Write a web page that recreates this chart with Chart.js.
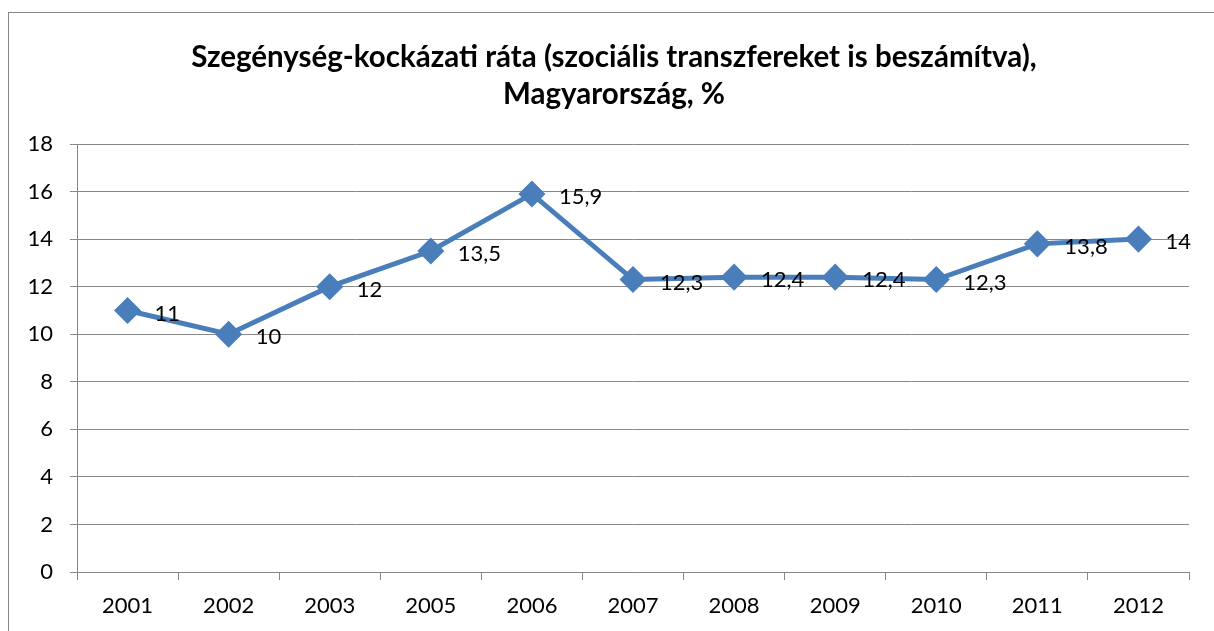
<!DOCTYPE html>
<html>
<head>
<meta charset="utf-8">
<script src="https://cdn.jsdelivr.net/npm/chart.js@4/dist/chart.umd.min.js"></script>
<style>
  html, body { margin: 0; padding: 0; background: #fff; }
  #wrap { position: relative; width: 1214px; height: 631px; }
</style>
</head>
<body>
<div id="wrap"><canvas id="lineChart" width="1214" height="631"></canvas></div>
<script>
// Adatok
const years = ['2001', '2002', '2003', '2005', '2006', '2007', '2008', '2009', '2010', '2011', '2012'];
const rates = [11, 10, 12, 13.5, 15.9, 12.3, 12.4, 12.4, 12.3, 13.8, 14];
const titleLines = ['Szegénység-kockázati ráta (szociális transzfereket is beszámítva),', 'Magyarország, %'];

const FONT = 'Lato, "Liberation Sans", sans-serif';
const GRID = '#878787';

// outer frame of the chart object, and title nudged a bit right
const framePlugin = {
    id: 'frame',
    afterLayout(chart) {
        if (chart.titleBlock) chart.titleBlock.left = 39;
    },
    beforeDraw(chart) {
        const ctx = chart.ctx;
        ctx.save();
        ctx.fillStyle = '#fff';
        ctx.fillRect(0, 0, chart.width, chart.height);
        ctx.strokeStyle = GRID;
        ctx.lineWidth = 1;
        ctx.strokeRect(8.5, 12.5, chart.width + 20, chart.height + 20);
        ctx.restore();
    }
};

// value labels to the right of each point
const labelPlugin = {
    id: 'pointLabels',
    afterDatasetsDraw(chart) {
        const ctx = chart.ctx;
        const meta = chart.getDatasetMeta(0);
        ctx.save();
        ctx.font = '22px ' + FONT;
        ctx.fillStyle = '#000';
        ctx.textAlign = 'left';
        ctx.textBaseline = 'middle';
        meta.data.forEach((pt, i) => {
            const txt = String(rates[i]).replace('.', ',');
            ctx.fillText(txt, pt.x + 27, pt.y + 3);
        });
        ctx.restore();
    }
};

new Chart(document.getElementById('lineChart'), {
    type: 'line',
    data: {
        labels: years,
        datasets: [{
            data: rates,
            borderColor: '#4A7EBB',
            backgroundColor: '#4A7EBB',
            borderWidth: 5,
            pointStyle: 'rectRot',
            pointRadius: 10,
            pointHoverRadius: 10,
            tension: 0
        }]
    },
    options: {
        responsive: false,
        animation: false,
        layout: { padding: { left: 0, right: 25, top: 0, bottom: 0 } },
        plugins: {
            legend: { display: false },
            tooltip: { enabled: false },
            title: {
                display: true,
                text: titleLines,
                color: '#000',
                font: { family: FONT, size: 29.5, weight: 'bold', lineHeight: '37px' },
                padding: { top: 39, bottom: 31 }
            }
        },
        scales: {
            x: {
                offset: true,
                afterFit: s => { s.height = 59; },
                grid: {
                    offset: true,
                    drawOnChartArea: false,
                    color: GRID,
                    tickLength: 8
                },
                border: { color: GRID, width: 1 },
                ticks: {
                    color: '#000',
                    font: { family: FONT, size: 22 },
                    padding: 13,
                    maxRotation: 0
                }
            },
            y: {
                min: 0,
                max: 18,
                afterFit: s => { s.width = 77; },
                grid: { color: GRID, tickLength: 7 },
                border: { color: GRID, width: 1 },
                ticks: {
                    stepSize: 2,
                    color: '#000',
                    font: { family: FONT, size: 22 },
                    padding: 17
                }
            }
        }
    },
    plugins: [framePlugin, labelPlugin]
});
</script>
</body>
</html>
